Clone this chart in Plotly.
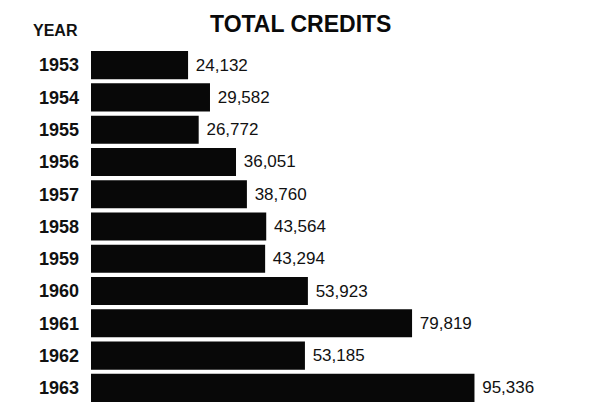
import plotly.graph_objects as go

# Total credits by year
years = ["1953", "1954", "1955", "1956", "1957", "1958",
         "1959", "1960", "1961", "1962", "1963"]
credits = [24132, 29582, 26772, 36051, 38760, 43564,
           43294, 53923, 79819, 53185, 95336]

fig = go.Figure(
    go.Bar(
        x=credits,
        y=years,
        orientation="h",
        marker=dict(color="#080808", line=dict(width=0)),
        text=[f" {v:,}" for v in credits],
        textposition="outside",
        textfont=dict(family="Liberation Sans", size=17, color="#111111"),
        cliponaxis=False,
        hoverinfo="skip",
    )
)

L, T, W, H = 91, 49, 504, 355

fig.update_layout(
    width=595,
    height=404,
    margin=dict(l=L, r=595 - L - W, t=T, b=404 - T - H),
    paper_bgcolor="white",
    plot_bgcolor="white",
    showlegend=False,
    bargap=0.13,
    xaxis=dict(range=[0, 125300], visible=False, fixedrange=True),
    yaxis=dict(
        type="category",
        autorange="reversed",
        showgrid=False,
        showline=False,
        zeroline=False,
        ticks="",
        ticklabelstandoff=11,
        tickfont=dict(family="Liberation Sans", size=18, color="#111111", weight="bold"),
    ),
    annotations=[
        dict(
            text="<b>TOTAL CREDITS</b>",
            xref="paper", yref="paper",
            x=(300 - L) / W, y=1 + (T - 24) / H,
            xanchor="center", yanchor="middle",
            showarrow=False,
            font=dict(family="Liberation Sans", size=23, color="#0a0a0a"),
        ),
        dict(
            text="<b>YEAR</b>",
            xref="paper", yref="paper",
            x=-(L - 80) / W, y=1 + (T - 30) / H,
            xanchor="right", yanchor="middle",
            showarrow=False,
            font=dict(family="Liberation Sans", size=16, color="#111111"),
        ),
    ],
)

fig.write_html("out.html")
